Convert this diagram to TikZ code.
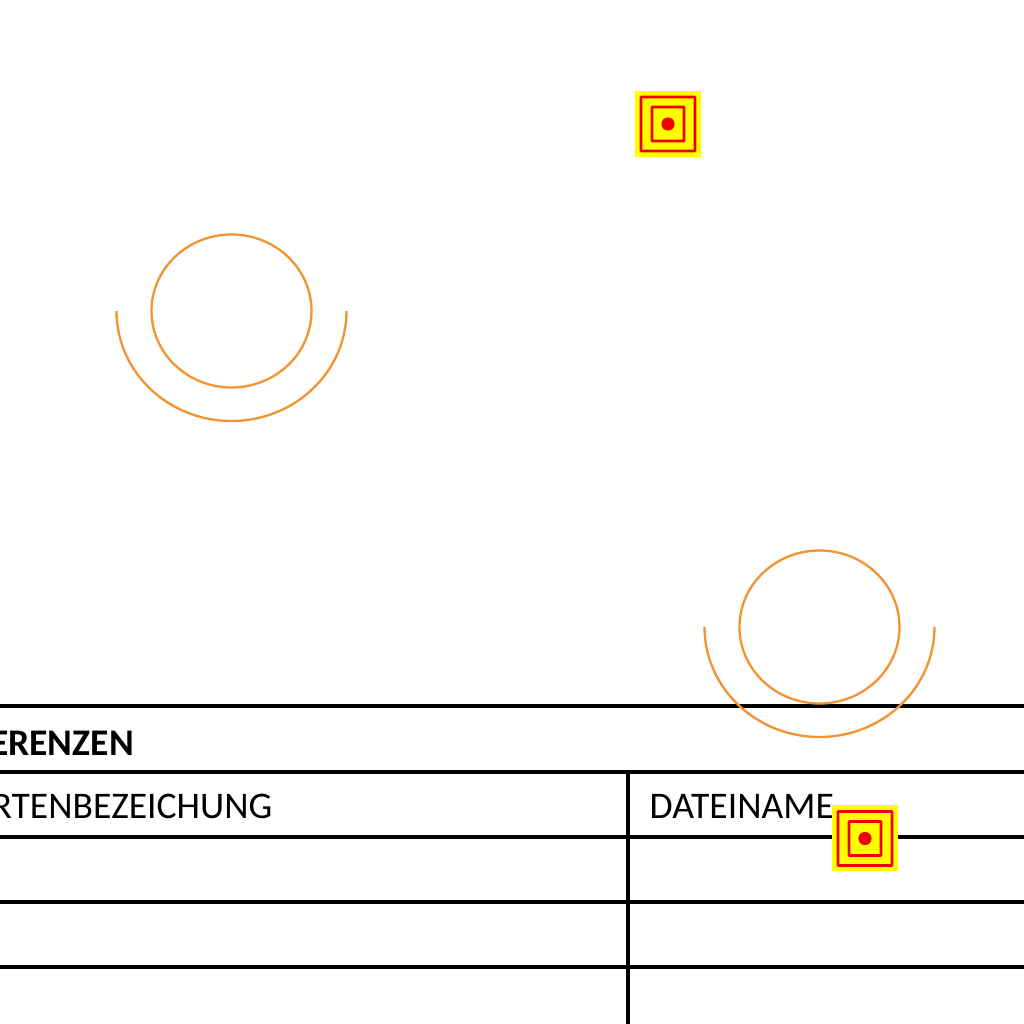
\documentclass[tikz,border=0pt]{standalone}
\usepackage{fontspec}
\setmainfont{Carlito}
\usetikzlibrary{calc}
\definecolor{ringorange}{RGB}{243,148,52}
\definecolor{markyellow}{RGB}{255,255,0}
\definecolor{markred}{RGB}{238,0,0}
\tikzset{
	rule/.style={line width=0.87pt, color=black},
	toprule/.style={line width=1.05pt, color=black},
	ring/.style={line width=0.66pt, color=ringorange},
	label/.style={anchor=base west, inner sep=0pt, font=\fontsize{10.7pt}{10.7pt}\selectfont},
}
\def\ringpair(#1,#2){
	\draw[ring] (#1, #2) ellipse (0.8 and 0.765);
	\draw[ring] ($(#1, #2)+(-1.15, 0)$) arc (180:360:1.15 and 1.1);
}
\def\markbox(#1,#2){
	\fill[markyellow] ($(#1, #2)+(-0.33, -0.33)$) rectangle ($(#1, #2)+(0.33, 0.33)$);
	\draw[line width=0.8pt, color=markred, rounded corners=0.2pt] ($(#1, #2)+(-0.27, -0.27)$) rectangle ($(#1, #2)+(0.27, 0.27)$);
	\draw[line width=0.8pt, color=markred, rounded corners=0.2pt] ($(#1, #2)+(-0.16, -0.17)$) rectangle ($(#1, #2)+(0.16, 0.17)$);
	\fill[markred] (#1, #2) circle (0.066);
}

\begin{document}
\begin{tikzpicture}
	\useasboundingbox (0, 0) rectangle (10.24, 10.24);
	
	%%%%% table %%%%%
	\draw[toprule] (0, 3.18) -- (10.24, 3.18);
	\draw[rule] (0, 2.52) -- (10.24, 2.52);
	\draw[rule] (0, 1.87) -- (10.24, 1.87);
	\draw[rule] (0, 1.22) -- (10.24, 1.22);
	\draw[rule] (0, 0.57) -- (10.24, 0.57);
	\draw[rule] (6.28, 2.52) -- (6.28, 0);
	
	\node[label, anchor=base east, font=\fontsize{10.7pt}{10.7pt}\selectfont\bfseries] (heading) at (1.345, 2.685) {ERENZEN};
	\node[label, anchor=base east] (column1) at (2.73, 2.05) {RTENBEZEICHUNG};
	\node[label] (column2) at (6.49, 2.05) {DATEINAME};
	
	%%%%% rings %%%%%
	\ringpair(2.315, 7.13)
	\ringpair(8.195, 3.97)
	
	%%%%% marks %%%%%
	\markbox(6.68, 9.00)
	\markbox(8.65, 1.855)
\end{tikzpicture}
\end{document}
